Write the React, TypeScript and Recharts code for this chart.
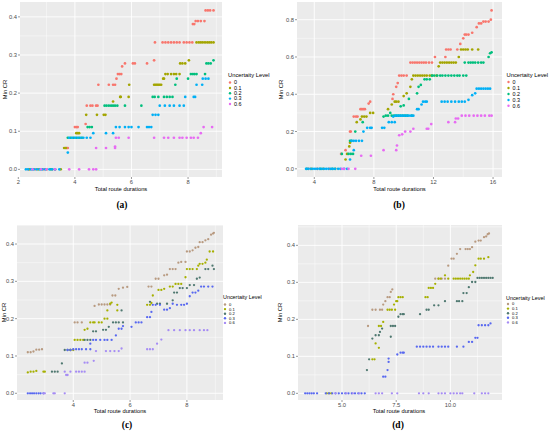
import { ScatterChart, Scatter, XAxis, YAxis, CartesianGrid } from "recharts";

type Pt = [number, number];

const LEVELS = ["0", "0.1", "0.2", "0.3", "0.6"];
const COLORS_AB = ["#F8766D", "#A3A500", "#00BF7D", "#00B0F6", "#E76BF3"];
const COLORS_CD = ["#B89A80", "#A6B000", "#4F7870", "#5868F0", "#A68CF4"];

// ---- panel (a) ----
const A_X_TICKS = [2, 4, 6, 8];
const A_Y_TICKS = [0, 0.1, 0.2, 0.3, 0.4];
const A_U0: Pt[] = [
  [2.35, 0], [2.6, 0], [2.9, 0], [3.2, 0], [3.7, 0.056], [3.75, 0.056], [4.0, 0.111], [4.05, 0.111], [4.1, 0.111],
  [4.38, 0.119], [4.42, 0.167], [4.55, 0.167], [4.62, 0.167], [4.75, 0.167], [4.8, 0.167], [4.83, 0.222],
  [5.2, 0.222], [5.35, 0.222], [5.42, 0.222], [5.47, 0.238], [5.52, 0.25], [5.58, 0.25], [5.64, 0.25],
  [5.67, 0.27], [5.77, 0.278], [6.05, 0.278], [6.12, 0.278], [6.55, 0.278], [6.8, 0.286], [6.83, 0.333],
  [7.1, 0.333], [7.2, 0.333], [7.3, 0.333], [7.4, 0.333], [7.5, 0.333], [7.6, 0.333], [7.7, 0.333],
  [7.85, 0.333], [7.95, 0.333], [8.05, 0.333], [8.15, 0.333], [8.17, 0.381], [8.22, 0.381], [8.27, 0.389],
  [8.35, 0.389], [8.45, 0.389], [8.58, 0.389], [8.62, 0.417], [8.7, 0.417], [8.78, 0.417], [8.9, 0.417],
];
const A_U1: Pt[] = [
  [2.4, 0], [2.7, 0], [3.0, 0], [3.3, 0], [3.5, 0], [3.62, 0.056], [3.68, 0.056], [4.05, 0.095], [4.1, 0.095],
  [4.15, 0.095], [4.4, 0.143], [4.78, 0.143], [5.02, 0.143], [5.08, 0.143], [5.35, 0.178], [5.6, 0.19],
  [5.62, 0.19], [5.9, 0.19], [5.92, 0.222], [6.8, 0.222], [6.85, 0.222], [6.9, 0.222], [6.95, 0.222],
  [7.0, 0.222], [7.05, 0.222], [7.12, 0.238], [7.15, 0.238], [7.2, 0.25], [7.28, 0.25], [7.4, 0.25],
  [7.5, 0.25], [7.58, 0.25], [7.7, 0.25], [7.72, 0.278], [7.8, 0.278], [7.9, 0.278], [8.03, 0.286],
  [8.3, 0.333], [8.38, 0.333], [8.45, 0.333], [8.52, 0.333], [8.6, 0.333], [8.68, 0.333], [8.75, 0.333],
  [8.82, 0.333], [8.9, 0.333],
];
const A_U2: Pt[] = [
  [2.5, 0], [2.8, 0], [3.15, 0], [3.75, 0.083], [3.85, 0.083], [3.95, 0.083], [4.05, 0.083], [4.15, 0.083],
  [4.25, 0.083], [4.45, 0.111], [4.52, 0.111], [4.6, 0.111], [5.05, 0.167], [5.12, 0.167], [5.2, 0.167],
  [5.28, 0.167], [5.35, 0.167], [5.42, 0.167], [5.5, 0.167], [5.77, 0.167], [6.35, 0.167], [6.75, 0.19],
  [6.82, 0.19], [6.95, 0.19], [7.15, 0.19], [7.25, 0.19], [7.35, 0.19], [7.45, 0.19], [7.55, 0.222],
  [7.6, 0.238], [8.0, 0.238], [8.1, 0.25], [8.17, 0.25], [8.23, 0.25], [8.3, 0.25], [8.6, 0.25],
  [8.65, 0.278], [8.72, 0.278], [8.8, 0.278], [8.9, 0.286],
];
const A_U3: Pt[] = [
  [2.27, 0], [2.35, 0], [2.45, 0], [2.55, 0], [2.65, 0], [2.75, 0], [2.85, 0], [2.95, 0], [3.1, 0], [3.2, 0],
  [3.3, 0], [3.45, 0], [3.75, 0.044], [3.8, 0.083], [3.9, 0.083], [4.0, 0.083], [4.1, 0.083], [4.2, 0.083],
  [4.3, 0.083], [4.42, 0.083], [4.55, 0.083], [4.65, 0.095], [5.1, 0.095], [5.35, 0.095], [5.45, 0.111],
  [5.58, 0.111], [5.77, 0.111], [5.9, 0.111], [6.0, 0.111], [6.25, 0.111], [6.55, 0.111], [6.62, 0.111],
  [6.7, 0.111], [6.75, 0.143], [6.85, 0.143], [6.95, 0.143], [7.0, 0.167], [7.18, 0.167], [7.35, 0.167],
  [7.5, 0.167], [7.7, 0.167], [7.85, 0.167], [7.9, 0.19], [8.2, 0.19], [8.25, 0.19], [8.3, 0.222],
  [8.5, 0.222], [8.52, 0.238], [8.62, 0.238], [8.72, 0.238],
];
const A_U6: Pt[] = [
  [2.5, 0], [2.8, 0], [3.0, 0], [3.3, 0], [3.8, 0], [4.15, 0], [4.5, 0], [4.65, 0], [4.75, 0], [4.75, 0.056],
  [5.1, 0.056], [5.42, 0.056], [5.42, 0.06], [5.45, 0.083], [5.55, 0.083], [5.9, 0.083], [6.8, 0.083],
  [7.15, 0.083], [7.3, 0.083], [7.5, 0.083], [7.7, 0.083], [7.8, 0.083], [7.95, 0.083], [8.1, 0.083],
  [8.2, 0.083], [8.35, 0.083], [8.45, 0.095], [8.55, 0.111], [8.85, 0.111],
];

// ---- panel (b) ----
const B_X_TICKS = [4, 8, 12, 16];
const B_Y_TICKS = [0, 0.2, 0.4, 0.6, 0.8];
const B_U0: Pt[] = [
  [3.6, 0], [4.2, 0], [5.0, 0], [5.8, 0.08], [6.1, 0.1], [6.4, 0.2], [6.45, 0.2], [6.65, 0.28], [6.8, 0.28],
  [6.9, 0.28], [7.1, 0.32], [7.2, 0.32], [7.3, 0.32], [7.4, 0.32], [7.65, 0.35], [7.75, 0.36], [9.25, 0.375],
  [9.3, 0.4], [9.5, 0.44], [9.6, 0.46], [9.7, 0.5], [9.85, 0.5], [10.0, 0.5], [10.2, 0.5], [10.45, 0.57],
  [10.6, 0.57], [10.75, 0.57], [10.9, 0.57], [11.05, 0.57], [11.2, 0.57], [11.35, 0.57], [11.5, 0.57],
  [11.7, 0.57], [11.9, 0.57], [12.1, 0.6], [12.8, 0.6], [12.85, 0.64], [13.0, 0.64], [13.15, 0.64],
  [13.6, 0.64], [13.8, 0.67], [14.0, 0.7], [14.1, 0.72], [14.2, 0.72], [14.35, 0.72], [14.6, 0.73],
  [14.9, 0.76], [15.05, 0.78], [15.2, 0.78], [15.35, 0.79], [15.5, 0.79], [15.7, 0.79], [15.85, 0.8],
  [15.9, 0.85],
];
const B_U1: Pt[] = [
  [3.8, 0], [4.6, 0], [5.4, 0], [6.1, 0.05], [6.2, 0.08], [6.35, 0.12], [6.4, 0.14], [6.85, 0.25],
  [7.1, 0.265], [7.2, 0.28], [7.35, 0.28], [7.5, 0.28], [7.75, 0.3], [7.95, 0.3], [8.95, 0.32], [9.2, 0.345],
  [9.4, 0.36], [9.5, 0.36], [9.65, 0.36], [10.0, 0.39], [10.2, 0.405], [10.45, 0.44], [10.55, 0.48],
  [10.65, 0.5], [10.8, 0.5], [10.95, 0.5], [11.1, 0.5], [11.25, 0.5], [11.4, 0.5], [11.55, 0.5],
  [11.75, 0.5], [11.9, 0.5], [12.2, 0.5], [12.35, 0.55], [12.45, 0.57], [12.6, 0.57], [12.75, 0.57],
  [12.9, 0.57], [13.05, 0.57], [13.2, 0.57], [13.35, 0.57], [13.5, 0.57], [13.7, 0.6], [13.85, 0.64],
  [14.0, 0.64], [14.15, 0.64], [14.3, 0.64], [14.6, 0.64], [15.0, 0.64],
];
const B_U2: Pt[] = [
  [3.5, 0], [4.4, 0], [5.2, 0], [5.85, 0.08], [6.3, 0.08], [6.45, 0.08], [6.6, 0.08], [6.4, 0.15],
  [6.5, 0.15], [6.75, 0.2], [7.25, 0.25], [8.65, 0.28], [8.8, 0.285], [8.95, 0.285], [9.1, 0.3],
  [9.2, 0.285], [9.35, 0.285], [9.5, 0.285], [9.65, 0.285], [9.8, 0.285], [9.95, 0.285], [10.1, 0.285],
  [10.25, 0.285], [10.55, 0.285], [9.8, 0.335], [10.0, 0.34], [10.35, 0.375], [10.9, 0.405], [11.0, 0.44],
  [11.15, 0.45], [11.4, 0.48], [11.55, 0.48], [11.75, 0.48], [11.9, 0.5], [12.05, 0.5], [12.25, 0.5],
  [12.45, 0.5], [12.6, 0.5], [12.8, 0.5], [13.0, 0.5], [13.2, 0.5], [13.4, 0.5], [13.6, 0.5], [13.75, 0.5],
  [14.0, 0.5], [14.2, 0.5], [14.1, 0.57], [14.35, 0.57], [14.5, 0.57], [14.65, 0.57], [14.8, 0.57],
  [15.0, 0.57], [15.2, 0.57], [15.35, 0.57], [15.7, 0.6], [15.8, 0.62], [15.9, 0.625],
];
const B_U3: Pt[] = [
  [3.45, 0], [3.6, 0], [3.75, 0], [3.9, 0], [4.05, 0], [4.2, 0], [4.35, 0], [4.5, 0], [4.65, 0], [4.8, 0],
  [4.95, 0], [5.1, 0], [5.25, 0], [5.4, 0], [5.6, 0], [5.75, 0], [6.0, 0], [6.2, 0], [6.4, 0.05],
  [6.65, 0.1], [6.5, 0.15], [6.65, 0.15], [6.8, 0.15], [7.0, 0.15], [7.2, 0.15], [7.3, 0.2], [7.55, 0.22],
  [7.75, 0.22], [7.85, 0.22], [8.55, 0.22], [8.7, 0.22], [9.0, 0.25], [9.2, 0.25], [9.4, 0.25],
  [9.3, 0.28], [9.45, 0.285], [9.6, 0.285], [9.75, 0.285], [9.9, 0.285], [10.05, 0.285], [10.2, 0.285],
  [10.35, 0.285], [10.5, 0.285], [10.65, 0.285], [10.9, 0.32], [11.0, 0.32], [11.2, 0.345], [11.3, 0.36],
  [11.45, 0.36], [11.55, 0.36], [12.55, 0.36], [12.75, 0.36], [12.95, 0.36], [13.2, 0.36], [13.45, 0.36],
  [13.7, 0.36], [13.9, 0.36], [14.1, 0.36], [14.35, 0.37], [14.6, 0.395], [14.8, 0.405], [14.9, 0.43],
  [15.05, 0.43], [15.2, 0.43], [15.35, 0.43], [15.5, 0.43], [15.65, 0.43], [15.8, 0.43],
];
const B_U6: Pt[] = [
  [5.85, 0], [6.0, 0], [6.3, 0], [6.75, 0], [7.15, 0.07], [7.8, 0.07], [8.65, 0.1], [9.5, 0.1],
  [9.55, 0.125], [9.7, 0.18], [9.9, 0.185], [10.1, 0.2], [10.45, 0.2], [10.65, 0.215], [11.55, 0.215],
  [11.65, 0.215], [11.85, 0.24], [13.0, 0.25], [13.45, 0.25], [13.5, 0.27], [13.65, 0.27], [13.9, 0.285],
  [14.15, 0.285], [14.4, 0.285], [14.7, 0.285], [14.95, 0.285], [15.2, 0.285], [15.45, 0.285],
  [15.75, 0.285], [15.9, 0.285],
];

// ---- panel (c) ----
const C_X_TICKS = [4, 6, 8];
const C_Y_TICKS = [0, 0.1, 0.2, 0.3, 0.4];
const C_U0: Pt[] = [
  [2.4, 0.11], [2.5, 0.11], [2.6, 0.112], [2.7, 0.117], [2.8, 0.117], [2.9, 0.118], [4.05, 0.19],
  [4.15, 0.19], [4.3, 0.19], [4.75, 0.234], [4.9, 0.238], [5.0, 0.238], [5.1, 0.238], [5.2, 0.238],
  [5.3, 0.238], [5.38, 0.262], [5.48, 0.262], [5.6, 0.28], [5.75, 0.283], [5.9, 0.285], [6.65, 0.286],
  [6.75, 0.286], [6.9, 0.307], [7.0, 0.307], [7.2, 0.316], [7.3, 0.318], [7.4, 0.333], [7.5, 0.333],
  [7.6, 0.333], [7.7, 0.35], [7.8, 0.352], [7.95, 0.352], [8.0, 0.38], [8.1, 0.38], [8.2, 0.383],
  [8.3, 0.39], [8.4, 0.392], [8.45, 0.405], [8.55, 0.405], [8.65, 0.41], [8.75, 0.413], [8.85, 0.425],
  [8.92, 0.428], [8.95, 0.43],
];
const C_U1: Pt[] = [
  [2.4, 0.056], [2.5, 0.058], [2.6, 0.058], [2.7, 0.06], [2.95, 0.058], [3.0, 0.058], [3.9, 0.116],
  [4.0, 0.116], [4.05, 0.143], [4.15, 0.143], [4.25, 0.143], [4.35, 0.143], [4.4, 0.17], [4.5, 0.173],
  [4.6, 0.19], [4.7, 0.19], [4.75, 0.19], [4.9, 0.19], [5.0, 0.19], [5.1, 0.2], [5.2, 0.2], [5.2, 0.222],
  [5.3, 0.24], [5.35, 0.243], [5.55, 0.237], [5.55, 0.222], [6.6, 0.237], [6.7, 0.237], [6.75, 0.242],
  [6.8, 0.262], [7.0, 0.277], [7.1, 0.277], [7.2, 0.28], [7.4, 0.286], [7.5, 0.286], [7.6, 0.293],
  [7.7, 0.293], [7.8, 0.293], [7.95, 0.311], [8.0, 0.333], [8.1, 0.333], [8.2, 0.333], [8.35, 0.333],
  [8.4, 0.342], [8.45, 0.347], [8.55, 0.347], [8.65, 0.35], [8.7, 0.358], [8.8, 0.38], [8.92, 0.38],
];
const C_U2: Pt[] = [
  [3.25, 0.058], [3.35, 0.058], [3.45, 0.058], [3.6, 0.08], [3.7, 0.116], [3.8, 0.116], [3.9, 0.116],
  [4.4, 0.143], [4.5, 0.143], [4.6, 0.143], [4.7, 0.166], [4.8, 0.166], [5.05, 0.17], [5.15, 0.17],
  [5.25, 0.178], [5.4, 0.19], [5.5, 0.19], [5.6, 0.19], [5.75, 0.19], [5.7, 0.222], [6.7, 0.245],
  [6.95, 0.24], [7.05, 0.24], [7.3, 0.24], [7.5, 0.249], [7.55, 0.27], [7.65, 0.27], [7.75, 0.282],
  [7.85, 0.282], [8.0, 0.282], [8.1, 0.29], [8.25, 0.29], [8.35, 0.307], [8.45, 0.31], [8.65, 0.333],
  [8.75, 0.333], [8.9, 0.342], [8.95, 0.333],
];
const C_U3: Pt[] = [
  [2.4, 0], [2.48, 0], [2.55, 0], [2.62, 0], [2.7, 0], [2.78, 0], [2.85, 0], [2.95, 0], [3.8, 0.116],
  [3.9, 0.116], [4.0, 0.118], [4.1, 0.118], [4.2, 0.118], [4.3, 0.118], [4.45, 0.118], [4.6, 0.118],
  [4.6, 0.133], [4.7, 0.143], [4.8, 0.143], [4.95, 0.143], [5.1, 0.143], [5.2, 0.143], [5.35, 0.143],
  [5.5, 0.155], [5.6, 0.173], [5.7, 0.173], [5.75, 0.18], [6.05, 0.178], [6.2, 0.19], [6.3, 0.19],
  [6.4, 0.19], [6.6, 0.204], [6.7, 0.204], [6.75, 0.218], [6.8, 0.237], [6.9, 0.237], [7.05, 0.237],
  [7.2, 0.224], [7.3, 0.224], [7.4, 0.228], [7.5, 0.24], [7.65, 0.237], [7.8, 0.237], [7.9, 0.237],
  [8.0, 0.24], [8.1, 0.26], [8.2, 0.27], [8.3, 0.27], [8.4, 0.275], [8.5, 0.286], [8.6, 0.286],
  [8.75, 0.286], [8.9, 0.286],
];
const C_U6: Pt[] = [
  [2.95, 0], [3.0, 0], [3.3, 0], [3.35, 0], [3.7, 0], [3.7, 0.058], [3.75, 0.049], [3.8, 0.049],
  [3.9, 0.058], [4.1, 0.058], [4.2, 0.058], [4.3, 0.058], [4.4, 0.058], [4.4, 0.082], [4.5, 0.082],
  [4.72, 0.087], [4.8, 0.113], [5.15, 0.113], [5.3, 0.113], [5.45, 0.113], [5.6, 0.113], [5.7, 0.12],
  [6.6, 0.118], [6.7, 0.118], [6.8, 0.118], [6.95, 0.133], [7.1, 0.144], [7.35, 0.169], [7.55, 0.169],
  [7.75, 0.169], [7.95, 0.169], [8.1, 0.169], [8.25, 0.169], [8.45, 0.169], [8.6, 0.169], [8.72, 0.169],
];

// ---- panel (d) ----
const D_X_TICKS = [5, 7.5, 10];
const D_Y_TICKS = [0, 0.1, 0.2, 0.3, 0.4];
const D_U0: Pt[] = [
  [6.2, 0.182], [6.4, 0.226], [6.55, 0.226], [6.75, 0.226], [6.85, 0.226], [6.9, 0.24], [7.0, 0.249],
  [7.1, 0.26], [7.2, 0.26], [7.25, 0.274], [7.32, 0.281], [9.3, 0.31], [9.45, 0.31], [9.6, 0.31],
  [9.75, 0.31], [9.9, 0.345], [10.05, 0.364], [10.15, 0.364], [10.3, 0.377], [10.45, 0.39], [10.7, 0.39],
  [10.8, 0.39], [10.9, 0.39], [11.0, 0.395], [11.15, 0.41], [11.3, 0.413], [11.4, 0.413], [11.55, 0.422],
  [11.65, 0.424], [11.72, 0.43], [11.78, 0.432],
];
const D_U1: Pt[] = [
  [4.3, 0], [4.4, 0], [4.5, 0], [6.4, 0.092], [6.5, 0.092], [6.55, 0.135], [6.7, 0.123], [6.7, 0.182],
  [6.8, 0.182], [6.9, 0.193], [7.1, 0.226], [7.2, 0.226], [7.3, 0.226], [7.45, 0.226], [7.4, 0.24],
  [7.5, 0.249], [7.55, 0.249], [7.6, 0.26], [7.7, 0.26], [7.8, 0.26], [8.85, 0.26], [8.95, 0.26],
  [9.0, 0.285], [9.1, 0.285], [9.2, 0.285], [9.3, 0.296], [9.45, 0.31], [9.55, 0.31], [9.75, 0.319],
  [9.9, 0.31], [10.15, 0.31], [10.25, 0.31], [10.35, 0.31], [10.45, 0.31], [10.55, 0.31], [10.65, 0.31],
  [10.75, 0.31], [10.85, 0.31], [10.9, 0.319], [11.05, 0.328], [11.15, 0.346], [11.3, 0.364],
  [11.4, 0.364], [11.55, 0.364], [11.75, 0.368],
];
const D_U2: Pt[] = [
  [6.15, 0.063], [6.25, 0.092], [6.4, 0.148], [6.55, 0.157], [6.7, 0.157], [6.75, 0.166], [6.85, 0.175],
  [7.25, 0.153], [7.25, 0.182], [7.35, 0.182], [7.45, 0.182], [7.6, 0.207], [7.7, 0.214], [7.8, 0.214],
  [7.85, 0.214], [8.6, 0.214], [8.9, 0.226], [9.0, 0.226], [9.25, 0.238], [9.45, 0.238], [9.75, 0.249],
  [10.3, 0.249], [10.4, 0.249], [10.55, 0.249], [10.6, 0.271], [10.75, 0.271], [10.85, 0.287],
  [11.0, 0.301], [11.15, 0.301], [11.25, 0.312], [11.35, 0.312], [11.45, 0.312], [11.55, 0.312],
  [11.65, 0.312], [11.75, 0.312], [11.85, 0.312], [11.95, 0.312],
];
const D_U3: Pt[] = [
  [3.3, 0], [3.4, 0], [3.5, 0], [3.6, 0], [3.7, 0], [3.85, 0], [4.25, 0], [4.4, 0], [4.55, 0], [4.7, 0],
  [4.85, 0], [5.0, 0], [5.15, 0], [5.3, 0], [5.45, 0], [5.6, 0], [5.75, 0], [5.9, 0], [6.05, 0],
  [6.9, 0.045], [7.0, 0.045], [7.1, 0.063], [7.15, 0.085], [7.15, 0.094], [7.55, 0.105], [7.7, 0.11],
  [7.8, 0.11], [7.85, 0.11], [8.45, 0.126], [8.6, 0.126], [8.75, 0.126], [8.9, 0.126], [9.05, 0.126],
  [9.2, 0.126], [9.45, 0.126], [9.6, 0.126], [9.75, 0.126], [9.9, 0.126], [10.3, 0.126], [10.6, 0.126],
  [10.85, 0.139], [11.0, 0.139], [11.15, 0.15], [11.25, 0.15], [11.3, 0.184], [11.45, 0.184],
  [11.6, 0.184], [11.75, 0.184], [11.85, 0.189],
];
const D_U6: Pt[] = [
  [4.7, 0], [5.2, 0], [5.5, 0], [5.8, 0], [6.55, 0], [6.7, 0], [6.85, 0], [7.3, 0], [7.55, 0], [8.55, 0],
  [8.75, 0], [9.0, 0], [9.45, 0], [9.6, 0], [9.75, 0], [10.0, 0], [10.15, 0], [10.3, 0], [10.45, 0],
  [10.55, 0], [11.1, 0], [11.45, 0], [11.6, 0], [11.75, 0],
];

const minorOf = (ticks: number[], lo: number, hi: number) => {
  const step = ticks[1] - ticks[0];
  const out: number[] = [];
  for (let v = ticks[0] - step / 2; v <= hi; v += step) if (v >= lo) out.push(+v.toFixed(4));
  return out;
};

const FONT = "'Liberation Sans', Arial, sans-serif";

interface PanelProps {
  left: number;
  top: number;
  w: number;
  h: number;
  xDomain: [number, number];
  yDomain: [number, number];
  xTicks: number[];
  yTicks: number[];
  xFmt: (v: number) => string;
  yFmt: (v: number) => string;
  series: Pt[][];
  colors: string[];
  r: number;
}

function Panel({ left, top, w, h, xDomain, yDomain, xTicks, yTicks, xFmt, yFmt, series, colors, r }: PanelProps) {
  const yAxisW = 22;
  const xAxisH = 14;
  const xMinor = minorOf(xTicks, xDomain[0], xDomain[1]);
  const yMinor = minorOf(yTicks, yDomain[0], yDomain[1]);
  const tickStyle = { fontSize: 5.8, fill: "#4D4D4D", fontFamily: FONT };
  return (
    <div style={{ position: "absolute", left: left - yAxisW, top }}>
      <ScatterChart width={w + yAxisW} height={h + xAxisH} margin={{ top: 0, right: 0, bottom: 0, left: 0 }}>
        <CartesianGrid fill="#EBEBEB" fillOpacity={1} stroke="#FFFFFF" strokeWidth={0.45}
          horizontalValues={yMinor} verticalValues={xMinor} />
        <CartesianGrid stroke="#FFFFFF" strokeWidth={0.9} horizontalValues={yTicks} verticalValues={xTicks} />
        <XAxis type="number" dataKey="x" domain={xDomain} ticks={xTicks} allowDataOverflow interval={0}
          axisLine={false} tickLine={{ stroke: "#333333", strokeWidth: 0.5 }} tickSize={2} tickMargin={1}
          tick={tickStyle} tickFormatter={xFmt} height={xAxisH} />
        <YAxis type="number" dataKey="y" domain={yDomain} ticks={yTicks} allowDataOverflow interval={0}
          axisLine={false} tickLine={{ stroke: "#333333", strokeWidth: 0.5 }} tickSize={2} tickMargin={1}
          tick={tickStyle} tickFormatter={yFmt} width={yAxisW} />
        {series.map((pts, i) => (
          <Scatter
            key={i}
            name={LEVELS[i]}
            data={pts.map(([x, y]) => ({ x, y }))}
            fill={colors[i]}
            isAnimationActive={false}
            shape={(p: any) => <circle cx={p.cx} cy={p.cy} r={r} fill={colors[i]} />}
          />
        ))}
      </ScatterChart>
    </div>
  );
}

interface LegendProps {
  x: number;
  y: number;
  rows: number[];
  colors: string[];
  fs: number;
  entryFs: number;
}

function Legend({ x, y, rows, colors, fs, entryFs }: LegendProps) {
  return (
    <g fontFamily={FONT}>
      <text x={x} y={y + 2} fontSize={fs} fill="#000">Uncertaity Level</text>
      {LEVELS.map((l, i) => (
        <g key={l}>
          <circle cx={x + 2} cy={rows[i]} r={1.2} fill={colors[i]} />
          <text x={x + 6} y={rows[i] + entryFs * 0.35} fontSize={entryFs} fill="#000">{l}</text>
        </g>
      ))}
    </g>
  );
}

const f1 = (v: number) => v.toFixed(1);
const f0 = (v: number) => String(v);

export default function App() {
  return (
    <div style={{ position: "absolute", left: 0, top: 0, width: 550, height: 434, background: "#fff", overflow: "hidden" }}>
      <Panel left={20} top={2} w={202} h={175} xDomain={[2.06, 9.2]} yDomain={[-0.02, 0.439]}
        xTicks={A_X_TICKS} yTicks={A_Y_TICKS} xFmt={f0} yFmt={f1}
        series={[A_U0, A_U1, A_U2, A_U3, A_U6]} colors={COLORS_AB} r={1.35} />
      <Panel left={297} top={2} w={205} h={175} xDomain={[2.84, 16.6]} yDomain={[-0.044, 0.895]}
        xTicks={B_X_TICKS} yTicks={B_Y_TICKS} xFmt={f0} yFmt={f1}
        series={[B_U0, B_U1, B_U2, B_U3, B_U6]} colors={COLORS_AB} r={1.35} />
      <Panel left={17} top={225} w={206} h={175} xDomain={[2.02, 9.27]} yDomain={[-0.018, 0.451]}
        xTicks={C_X_TICKS} yTicks={C_Y_TICKS} xFmt={f0} yFmt={f1}
        series={[C_U0, C_U1, C_U2, C_U3, C_U6]} colors={COLORS_CD} r={1.15} />
      <Panel left={298} top={225} w={204} h={175} xDomain={[2.97, 12.38]} yDomain={[-0.018, 0.455]}
        xTicks={D_X_TICKS} yTicks={D_Y_TICKS} xFmt={f1} yFmt={f1}
        series={[D_U0, D_U1, D_U2, D_U3, D_U6]} colors={COLORS_CD} r={1.15} />
      <svg width={550} height={434} style={{ position: "absolute", left: 0, top: 0, pointerEvents: "none" }}>
        <g fontFamily={FONT} fontSize={5.8} fill="#000" textAnchor="middle">
          <text x={121} y={191}>Total route durations</text>
          <text x={399.5} y={191}>Total route durations</text>
          <text x={120} y={413}>Total route durations</text>
          <text x={399} y={413}>Total route durations</text>
          <text transform="translate(7,89.5) rotate(-90)">Min CR</text>
          <text transform="translate(283,89.5) rotate(-90)">Min CR</text>
          <text transform="translate(6,312.5) rotate(-90)">Min CR</text>
          <text transform="translate(282,312.5) rotate(-90)">Min CR</text>
        </g>
        <Legend x={228} y={75} rows={[82.5, 88, 93.3, 98.6, 104]} colors={COLORS_AB} fs={5.8} entryFs={5.4} />
        <Legend x={506.5} y={75} rows={[82, 88, 94, 100, 105.7]} colors={COLORS_AB} fs={5.8} entryFs={5.4} />
        <Legend x={223} y={297} rows={[304.5, 309.1, 313.7, 318.3, 322.9]} colors={COLORS_CD} fs={5.4} entryFs={4.1} />
        <Legend x={506} y={297.5} rows={[304, 308.6, 313.2, 317.8, 322.4]} colors={COLORS_CD} fs={5.4} entryFs={4.1} />
        <g fontFamily="'Liberation Serif', 'DejaVu Serif', serif" fontWeight="bold" fontSize={9.5} fill="#000" textAnchor="middle">
          <text x={122} y={207.5}>(a)</text>
          <text x={399} y={207.5}>(b)</text>
          <text x={127} y={428}>(c)</text>
          <text x={398} y={427.5}>(d)</text>
        </g>
      </svg>
    </div>
  );
}
